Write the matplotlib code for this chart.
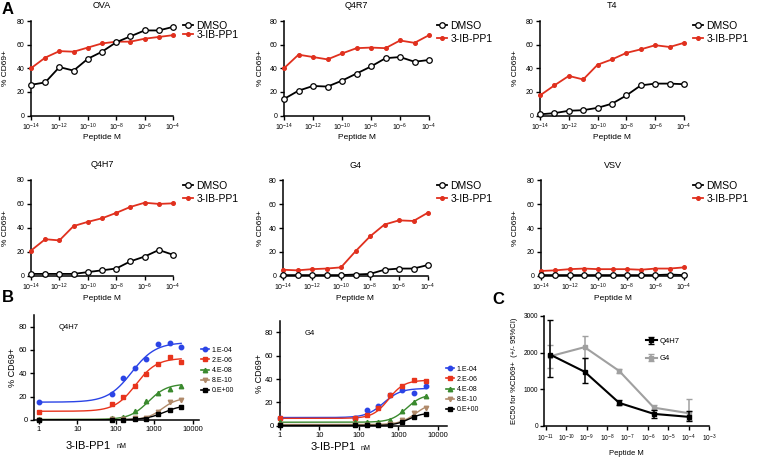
import numpy as np
import matplotlib
matplotlib.use('Agg')
import matplotlib.pyplot as plt
from matplotlib.ticker import NullLocator

plt.rcParams['font.family'] = ['Liberation Sans', 'DejaVu Sans']
plt.rcParams['mathtext.fontset'] = 'custom'
plt.rcParams['mathtext.rm'] = 'Liberation Sans'
plt.rcParams['mathtext.it'] = 'Liberation Sans'
plt.rcParams['mathtext.bf'] = 'Liberation Sans:bold'
plt.rcParams['axes.linewidth'] = 1.1

# ---------------- data ----------------
# Panel A: % CD69+ vs peptide concentration
peptide_m = [1e-14, 1e-13, 1e-12, 1e-11, 1e-10, 1e-9, 1e-8, 1e-7, 1e-6, 1e-5, 1e-4]
a_xticks = [1e-14, 1e-12, 1e-10, 1e-8, 1e-6, 1e-4]
a_xticklabels = ['$10^{-14}$', '$10^{-12}$', '$10^{-10}$', '$10^{-8}$', '$10^{-6}$', '$10^{-4}$']

ova_dmso = [26, 28, 41, 38, 48, 54, 62, 67, 72, 72, 75]
ova_ib = [40, 49, 54.5, 54, 57.5, 61, 62.5, 62.5, 65, 66.5, 68]
q4r7_dmso = [14, 21, 25, 24.5, 29.5, 35.5, 41.5, 48.5, 49.5, 45.5, 47]
q4r7_ib = [40, 51.5, 49.5, 47.5, 52.5, 57, 57.5, 57, 63.5, 61.5, 68]
t4_dmso = [1, 2, 4, 4.5, 6.5, 10, 17, 25.5, 27, 27, 26.5]
t4_ib = [17, 25.5, 33.5, 30.5, 43, 47.5, 53, 56, 59.5, 58, 61.5]
q4h7_dmso = [1.5, 1.5, 1.5, 1.5, 3, 4.5, 6, 12, 16, 21.5, 17.5]
q4h7_ib = [21, 30.5, 29.5, 41.5, 45, 48, 52.5, 57.5, 61, 60, 60.5]
g4_dmso = [0.5, 0.5, 0.5, 0.5, 0.5, 1, 1.5, 5, 6, 6, 9]
g4_ib = [5, 4.5, 5.5, 6, 7, 20.5, 33, 43, 46.5, 46, 53]
vsv_dmso = [0.5, 0.5, 0.5, 0.5, 0.5, 0.5, 0.5, 0.5, 0.5, 1, 0.5]
vsv_ib = [4, 4.5, 5.5, 6, 5.5, 5.5, 5.5, 5, 6, 6, 7]

# Panel B: % CD69+ vs 3-IB-PP1 (nM), one series per peptide concentration
ib_nm = [1, 78, 156, 312, 625, 1250, 2500, 5000]
b_labels = ['1.E-04', '2.E-06', '4.E-08', '8.E-10', '0.E+00']
q4h7_b = [
    [15.7, 22.3, 36.2, 44.6, 51.9, 65.1, 66.0, 62.8],
    [7.1, 13.7, 20.0, 29.4, 39.4, 48.0, 54.2, 49.4],
    [1.0, 1.7, 2.8, 7.4, 16.0, 23.0, 26.6, 28.8],
    [0.3, 0.5, 0.5, 1.7, 1.5, 7.0, 15.5, 17.0],
    [0.2, 0.2, 0.2, 0.5, 0.5, 5.0, 8.6, 11.3],
]
g4_b = [
    [6.5, 7.0, 13.4, 16.5, 26.0, 30.5, 27.7, 34.2],
    [6.8, 6.3, 9.1, 14.8, 26.2, 33.9, 39.6, 37.9],
    [3.5, 3.0, 3.0, 3.0, 4.9, 12.5, 20.5, 25.4],
    [1.0, 1.0, 1.0, 1.0, 1.5, 4.5, 10.6, 14.8],
    [0.2, 0.2, 0.2, 0.3, 0.8, 3.4, 7.7, 9.7],
]
# fitted dose-response parameters: bottom, top, EC50 (nM), Hill slope
q4h7_fit_bottom = [15.3, 7.5, 0.5, 0.3, 0.2]
q4h7_fit_top = [66.5, 53, 31, 19, 13]
q4h7_fit_ec50 = [260, 330, 700, 1600, 1800]
q4h7_fit_hill = [1.4, 1.6, 1.8, 2.2, 1.8]
g4_fit_bottom = [7, 6.3, 3, 1, 0.2]
g4_fit_top = [32, 39, 27, 20, 11]
g4_fit_ec50 = [420, 560, 1600, 2700, 1800]
g4_fit_hill = [2.0, 2.2, 2.2, 2.2, 2.5]
b_colors = ['#2b44e6', '#e8341c', '#3a8a2e', '#b08a6a', '#000000']
b_markers = ['o', 's', '^', 'v', 's']

# Panel C: EC50 with 95% CI
c_peptide = [1.6e-11, 8e-10, 4e-8, 2e-6, 1e-4]
c_q4h7 = [1950, 1480, 630, 330, 250]
c_q4h7_low = [1330, 1180, 570, 230, 150]
c_q4h7_high = [2900, 1850, 700, 430, 420]
c_g4 = [1900, 2150, 1500, 500, 350]
c_g4_low = [1580, 1850, 1440, 430, 160]
c_g4_high = [2200, 2450, 1560, 580, 730]
c_xticks = [1e-11, 1e-10, 1e-9, 1e-8, 1e-7, 1e-6, 1e-5, 1e-4, 1e-3]
c_xticklabels = ['$10^{-11}$', '$10^{-10}$', '$10^{-9}$', '$10^{-8}$', '$10^{-7}$',
                 '$10^{-6}$', '$10^{-5}$', '$10^{-4}$', '$10^{-3}$']

RED = '#e0301e'
W, H = 760, 457
fig = plt.figure(figsize=(7.6, 4.57), dpi=100)


def add_ax(l, t, r, b):
    return fig.add_axes([l / W, 1 - b / H, (r - l) / W, (b - t) / H])


def fp(x, y):
    return (x / W, 1 - y / H)


def style(ax, fs):
    ax.spines['top'].set_visible(False)
    ax.spines['right'].set_visible(False)
    ax.tick_params(direction='out', length=3, width=1, labelsize=fs, pad=1.5)
    ax.xaxis.set_minor_locator(NullLocator())


# ---------------- panel A ----------------
a_panels = [
    ('OVA', ova_dmso, ova_ib, (31, 21, 173, 115.5), 9, 30.5, 9.8),
    ('Q4R7', q4r7_dmso, q4r7_ib, (284, 21, 429, 115.5), 264, 32.5, 14.0),
    ('T4', t4_dmso, t4_ib, (540, 21, 684, 115.5), 519, 32.5, 14.0),
    ('Q4H7', q4h7_dmso, q4h7_ib, (31, 180, 173, 275.7), 9, 192.5, 14.0),
    ('G4', g4_dmso, g4_ib, (283, 180.5, 428, 275.7), 264, 192.5, 14.0),
    ('VSV', vsv_dmso, vsv_ib, (541, 180.5, 684, 275.7), 519, 192.5, 14.0),
]
leg_x = {31: 182.5, 284: 436.5, 540: 692.5, 283: 436.5, 541: 692.5}

for name, dmso, ib, (l, t, r, b), ylab_x, leg_y, leg_dy in a_panels:
    ax = add_ax(l, t, r, b)
    ax.set_xscale('log')
    ax.plot(peptide_m, ib, '-o', color=RED, ms=2.6, lw=1.3, clip_on=False, zorder=3,
            label='3-IB-PP1')
    ax.plot(peptide_m, dmso, '-o', color='black', mfc='white', mec='black', ms=4,
            mew=0.9, lw=1.3, clip_on=False, zorder=4, label='DMSO')
    ax.set_xlim(1e-14, 1e-4)
    ax.set_ylim(0, 80)
    ax.set_xticks(a_xticks)
    ax.set_xticklabels(a_xticklabels)
    ax.set_yticks([0, 20, 40, 60, 80])
    style(ax, 5)
    ax.set_title(name, fontsize=6.5, pad=9)
    ax.set_xlabel('Peptide M', fontsize=6, labelpad=1)
    ax.set_ylabel('% CD69+', fontsize=6)
    ax.yaxis.set_label_coords((ylab_x - l) / (r - l), 0.5)
    h, lab = ax.get_legend_handles_labels()
    row_h = 11.0
    ls = (leg_dy - row_h) / (7.5 * 100 / 72)
    ax.legend(h[::-1], lab[::-1], loc='center left', bbox_to_anchor=fp(leg_x[l], leg_y),
              bbox_transform=fig.transFigure, frameon=False, fontsize=7.5,
              handlelength=1.05, handletextpad=0.3, labelspacing=ls,
              borderpad=0, borderaxespad=0)

# ---------------- panel B ----------------
xs = np.logspace(0, np.log10(ib_nm[-1]), 200)
b_panels = [
    ('Q4H7', q4h7_b, q4h7_fit_bottom, q4h7_fit_top, q4h7_fit_ec50, q4h7_fit_hill,
     (33.7, 315, 199.3, 420), (0.74, 14800), 17, (201, 370.5), (111, 117, 446)),
    ('G4', g4_b, g4_fit_bottom, g4_fit_top, g4_fit_ec50, g4_fit_hill,
     (279.7, 320.7, 446.7, 425.7), (1, 16500), 264, (446, 389.5), (356, 361, 447)),
]
for name, vals, bot, top, ec50, hill, (l, t, r, b), xlim, ylab_x, leg_pos, xl in b_panels:
    ax = add_ax(l, t, r, b)
    ax.set_xscale('log')
    for i in range(len(vals)):
        fit = bot[i] + (top[i] - bot[i]) / (1 + (ec50[i] / xs) ** hill[i])
        ax.plot(xs, fit, '-', color=b_colors[i], lw=1.0, zorder=2)
        ax.plot(ib_nm, vals[i], ls='none', marker=b_markers[i], color=b_colors[i],
                ms=3.2, clip_on=False, zorder=3)
        ax.plot([], [], '-', marker=b_markers[i], color=b_colors[i], ms=3.2, lw=1.2,
                label=b_labels[i])
    ax.set_xlim(*xlim)
    ax.set_ylim(0, 90)
    ax.set_xticks([1, 10, 100, 1000, 10000])
    ax.set_xticklabels(['1', '10', '100', '1000', '10000'])
    ax.set_yticks([0, 20, 40, 60, 80])
    style(ax, 5.5)
    ax.text(0.15, 0.88, name, transform=ax.transAxes, fontsize=5.5, va='center')
    ax.set_ylabel('% CD69+', fontsize=6.5)
    ax.yaxis.set_label_coords((ylab_x - l) / (r - l), 0.5)
    fig.text(*fp(xl[0], xl[2]), '3-IB-PP1', fontsize=8, ha='right', va='center')
    fig.text(*fp(xl[1], xl[2] + 1), 'nM', fontsize=5, ha='left', va='center')
    ax.legend(loc='center left', bbox_to_anchor=fp(*leg_pos), bbox_transform=fig.transFigure,
              frameon=False, fontsize=5, handlelength=1.2, handletextpad=0.3,
              labelspacing=0.45, borderpad=0, borderaxespad=0)

# ---------------- panel C ----------------
l, t, r, b = 544.3, 316, 709, 426
ax = add_ax(l, t, r, b)
ax.set_xscale('log')
ec_g4 = np.array(c_g4)
ec_q = np.array(c_q4h7)
ax.errorbar(c_peptide, c_g4, yerr=[ec_g4 - np.array(c_g4_low), np.array(c_g4_high) - ec_g4],
            color='#a0a0a0', marker='s', ms=2.5, lw=1.5, capsize=2.5, elinewidth=1.1,
            label='G4', zorder=2)
ax.errorbar(c_peptide, c_q4h7, yerr=[ec_q - np.array(c_q4h7_low), np.array(c_q4h7_high) - ec_q],
            color='black', marker='s', ms=3.2, lw=1.5, capsize=2.5, elinewidth=1.1,
            label='Q4H7', zorder=3)
ax.set_xlim(8.5e-12, 1e-3)
ax.set_ylim(0, 3000)
ax.set_xticks(c_xticks)
ax.set_xticklabels(c_xticklabels)
ax.set_yticks([0, 1000, 2000, 3000])
style(ax, 4.8)
ax.set_xlabel('Peptide M', fontsize=5.5, labelpad=5)
ax.set_ylabel('EC50 for %CD69+  (+/- 95%CI)', fontsize=5.5)
ax.yaxis.set_label_coords((518 - l) / (r - l), 0.5)
h, lab = ax.get_legend_handles_labels()
ax.legend(h[::-1], lab[::-1], loc='center left', bbox_to_anchor=fp(646, 350),
          bbox_transform=fig.transFigure, frameon=False, fontsize=5.5,
          handlelength=1.4, handletextpad=0.4, labelspacing=1.3,
          borderpad=0, borderaxespad=0)

# panel letters
fig.text(*fp(2, 10), 'A', fontsize=12, fontweight='bold', va='center')
fig.text(*fp(2, 297), 'B', fontsize=12, fontweight='bold', va='center')
fig.text(*fp(492, 300), 'C', fontsize=12, fontweight='bold', va='center')

fig.savefig('out.png', dpi=100)
